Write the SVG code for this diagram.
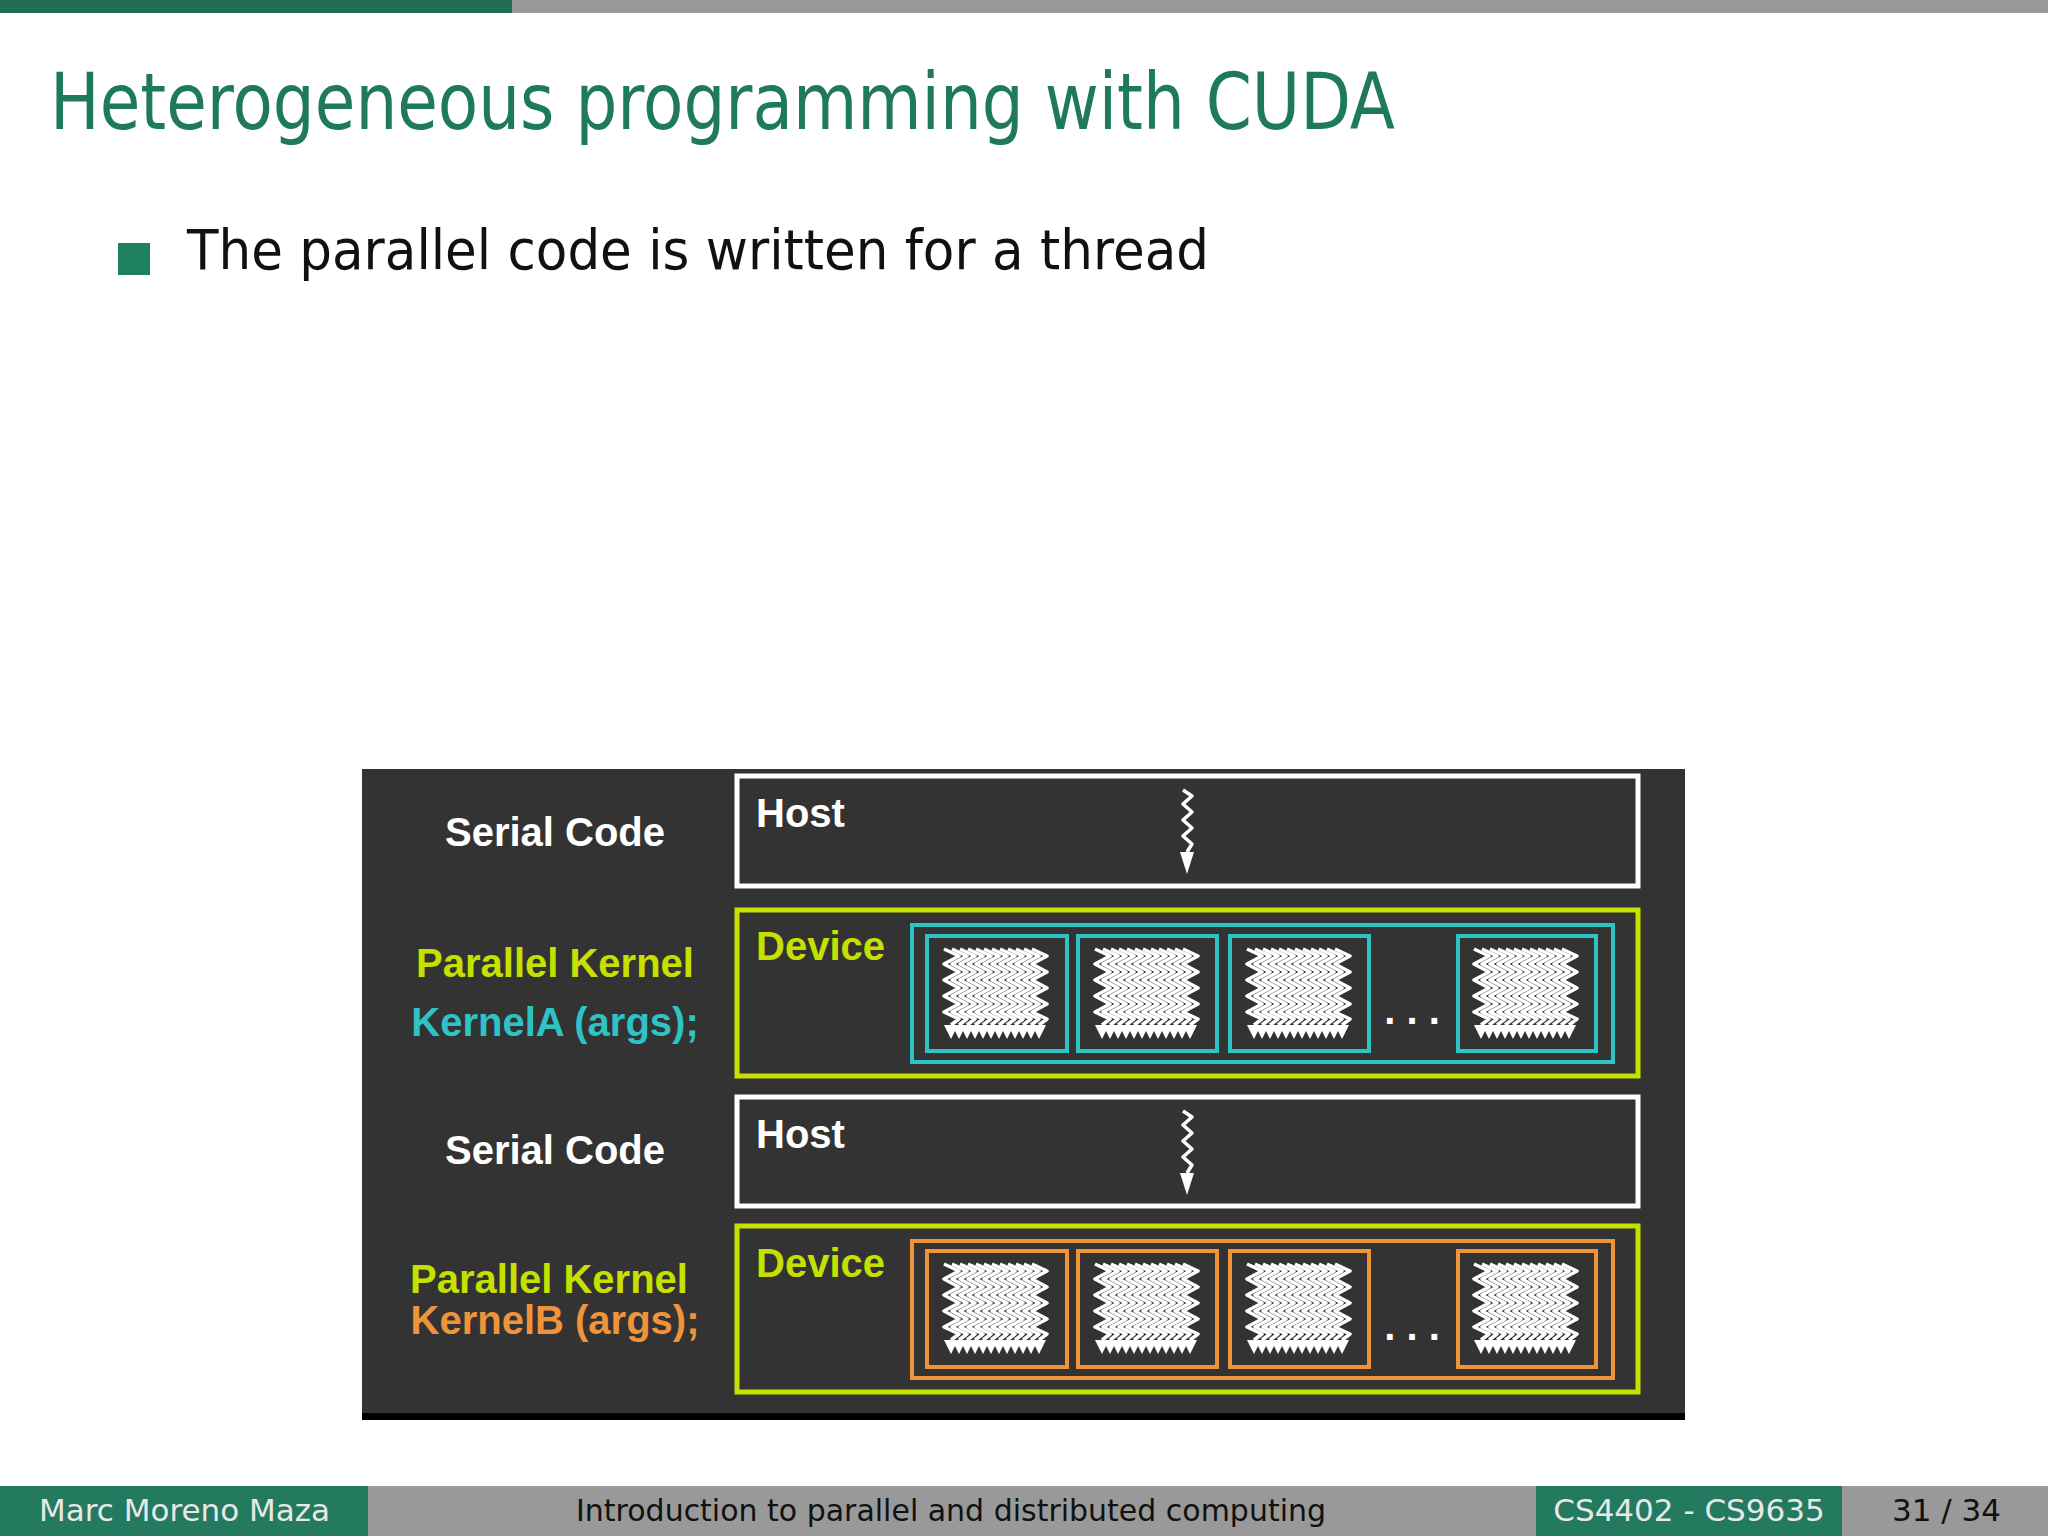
<svg xmlns="http://www.w3.org/2000/svg" xmlns:xlink="http://www.w3.org/1999/xlink" width="2048" height="1536" viewBox="0 0 2048 1536">
<style>
.lbl{font-family:"Liberation Sans",Arial,sans-serif;font-weight:bold;font-size:40px}
.slide{font-family:"DejaVu Sans","Noto Sans",sans-serif}
.host{fill:none;stroke:#fff;stroke-width:5}
.dev{fill:none;stroke:#c6e000;stroke-width:5}
.cy{fill:none;stroke:#2ec4c6;stroke-width:4}
.or{fill:none;stroke:#f0943a;stroke-width:4}
.th{fill:none;stroke:#fff;stroke-width:3.5;stroke-linejoin:round}
</style>
<defs>
<g id="thr">
<polyline class="th" points="3,0 18,7 3,15 18,23 3,31 18,39 3,47 18,55 3,63 18,70 10,76"/>
<polygon points="3,76 17,76 10,90" fill="#fff"/>
</g>
<g id="tg">
<use xlink:href="#thr" x="0"/><use xlink:href="#thr" x="8"/><use xlink:href="#thr" x="16"/><use xlink:href="#thr" x="24"/>
<use xlink:href="#thr" x="32"/><use xlink:href="#thr" x="40"/><use xlink:href="#thr" x="48"/><use xlink:href="#thr" x="56"/>
<use xlink:href="#thr" x="64"/><use xlink:href="#thr" x="72"/><use xlink:href="#thr" x="80"/><use xlink:href="#thr" x="88"/>
</g>
<g id="arr">
<polyline class="th" points="0,0 9,6 0,14 9,22 0,30 9,38 0,46 9,54 4,62"/>
<polygon points="-3,62 11,62 4,84" fill="#fff"/>
</g>
</defs>
<rect width="2048" height="1536" fill="#fff"/>
<rect x="0" y="0" width="512" height="13" fill="#1f6e52"/>
<rect x="512" y="0" width="1536" height="13" fill="#999"/>
<text class="slide" x="50" y="129" font-size="78" fill="#1e7a5a" textLength="1345" lengthAdjust="spacingAndGlyphs">Heterogeneous programming with CUDA</text>
<rect x="118" y="243" width="32" height="32" fill="#1e8060"/>
<text class="slide" x="187" y="269" font-size="55" fill="#111" textLength="1022" lengthAdjust="spacingAndGlyphs">The parallel code is written for a thread</text>

<g id="panel">
<rect x="362" y="769" width="1323" height="645" fill="#333"/>
<rect x="362" y="1413" width="1323" height="7" fill="#000"/>
</g>
<g id="labels">
<text class="lbl" x="555" y="846" fill="#fff" text-anchor="middle">Serial Code</text>
<text class="lbl" x="555" y="977" fill="#c6e000" text-anchor="middle">Parallel Kernel</text>
<text class="lbl" x="555" y="1036" fill="#2ec4c6" text-anchor="middle">KernelA (args);</text>
<text class="lbl" x="555" y="1164" fill="#fff" text-anchor="middle">Serial Code</text>
<text class="lbl" x="549" y="1293" fill="#c6e000" text-anchor="middle">Parallel Kernel</text>
<text class="lbl" x="555" y="1334" fill="#f0943a" text-anchor="middle">KernelB (args);</text>
</g>
<g id="host1">
<rect class="host" x="737" y="776" width="901" height="110"/>
<text class="lbl" x="756" y="827" fill="#fff">Host</text>
<use xlink:href="#arr" x="1183" y="790"/>
</g>
<g id="device1">
<rect class="dev" x="737" y="910" width="901" height="166"/>
<text class="lbl" x="756" y="960" fill="#c6e000">Device</text>
<rect class="cy" x="912" y="925" width="701" height="137"/>
<rect class="cy" x="927" y="936" width="140" height="115"/>
<rect class="cy" x="1078" y="936" width="139" height="115"/>
<rect class="cy" x="1230" y="936" width="139" height="115"/>
<rect class="cy" x="1458" y="936" width="138" height="115"/>
<use xlink:href="#tg" x="941" y="949"/><use xlink:href="#tg" x="1092" y="949"/><use xlink:href="#tg" x="1244" y="949"/><use xlink:href="#tg" x="1471" y="949"/>
<text class="lbl" x="1412" y="1024" fill="#fff" text-anchor="middle">. . .</text>
</g>
<g id="host2">
<rect class="host" x="737" y="1097" width="901" height="109"/>
<text class="lbl" x="756" y="1148" fill="#fff">Host</text>
<use xlink:href="#arr" x="1183" y="1111"/>
</g>
<g id="device2">
<rect class="dev" x="737" y="1226" width="901" height="166"/>
<text class="lbl" x="756" y="1277" fill="#c6e000">Device</text>
<rect class="or" x="912" y="1241" width="701" height="137"/>
<rect class="or" x="927" y="1251" width="140" height="116"/>
<rect class="or" x="1078" y="1251" width="139" height="116"/>
<rect class="or" x="1230" y="1251" width="139" height="116"/>
<rect class="or" x="1458" y="1251" width="138" height="116"/>
<use xlink:href="#tg" x="941" y="1264"/><use xlink:href="#tg" x="1092" y="1264"/><use xlink:href="#tg" x="1244" y="1264"/><use xlink:href="#tg" x="1471" y="1264"/>
<text class="lbl" x="1412" y="1340" fill="#fff" text-anchor="middle">. . .</text>
</g>
<g id="connectors"></g>

<g id="footer" class="slide" font-size="31">
<rect x="0" y="1486" width="368" height="50" fill="#237a5f"/>
<rect x="368" y="1486" width="1168" height="50" fill="#999"/>
<rect x="1536" y="1486" width="306" height="50" fill="#237a5f"/>
<rect x="1842" y="1486" width="206" height="50" fill="#999"/>
<text x="39" y="1521" fill="#e8e8e8">Marc Moreno Maza</text>
<text x="951" y="1521" fill="#111" text-anchor="middle" textLength="750" lengthAdjust="spacingAndGlyphs">Introduction to parallel and distributed computing</text>
<text x="1689" y="1521" fill="#e8e8e8" text-anchor="middle">CS4402 - CS9635</text>
<text x="2001" y="1521" fill="#111" text-anchor="end">31 / 34</text>
</g>
</svg>
